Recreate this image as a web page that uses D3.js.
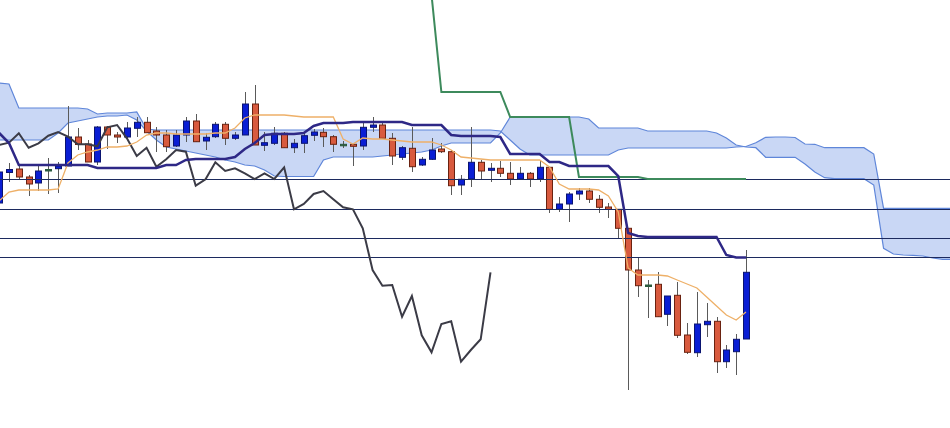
<!DOCTYPE html>
<html><head><meta charset="utf-8">
<script src="https://cdn.jsdelivr.net/npm/d3@7"></script>
<style>html,body{margin:0;padding:0;background:#fff;overflow:hidden}</style>
</head><body>
<svg id="c" width="950" height="428"></svg>
<script>
// ---- data (index -1 .. 75 for candles) ----
const firstIndex = -1;
const open = [297, 327.5, 331, 323, 317, 330.5, 331.3, 334, 363, 356,
 338, 373, 365, 363, 371.7, 377.7, 369, 365, 354, 365,
 379, 359, 363.3, 375.7, 361.7, 365, 396, 354.7, 356.7, 366.7,
 352.3, 356.7, 364.7, 367.7, 363.3, 355.7, 355.7, 354, 372.7, 375,
 361.7, 342.7, 351.7, 335, 340.7, 351, 348.3, 315, 321, 337.7,
 329.7, 331.7, 326.7, 321, 326.7, 321, 332.7, 290.7, 296, 306,
 309, 300.7, 293, 290.7, 271.7, 230, 215, 215.7, 185.7, 204.7,
 165, 147.3, 175.3, 178.7, 138.3, 148.3, 161];
const high = [330, 337, 334, 325, 335, 342, 338, 394, 372, 360,
 374, 374, 368, 378, 383, 383, 373, 370, 370, 383,
 386, 367, 378, 378, 368, 408, 415, 368, 373, 368,
 361, 367, 371, 372, 365, 359, 357, 378, 383, 377,
 367, 354, 373, 343, 362, 357, 350, 325, 373, 340,
 337, 339, 338, 333, 328, 340, 333, 303, 308, 312,
 312, 305, 297, 291, 272, 243, 220, 228, 204, 218,
 177, 208, 197, 183, 155, 166, 250];
const low = [295, 318, 321, 304, 309, 306, 307, 334, 350, 338,
 335, 351, 357, 362, 363, 367, 348, 348, 353, 358,
 358, 350, 362, 355, 360, 365, 355, 349, 355, 352,
 347, 347, 359, 353, 348, 352, 334, 350, 368, 361,
 335, 340, 328, 334, 340, 347, 305, 305, 313, 321,
 318, 323, 315, 320, 313, 318, 287, 288, 278, 300,
 297, 287, 282, 262, 110, 203, 182, 183, 174, 162,
 146, 143, 163, 127, 132, 125, 161];
const close = [328, 330.5, 323, 316, 329, 330.5, 334, 363, 355.5, 338,
 373, 365, 363, 372, 377.7, 367.3, 365, 353.3, 365, 379,
 358.3, 362.7, 375.7, 361.7, 365, 396, 355, 357.3, 366.7, 352.3,
 356.7, 364.3, 368, 363.3, 355.7, 355.7, 353.7, 372.7, 375, 361.7,
 344, 352.3, 333.3, 340.7, 350, 348.3, 314.3, 320.7, 337.7, 329,
 331.7, 326.7, 321, 326.7, 321, 332.7, 290.7, 296, 306, 309,
 300.7, 292.7, 290.7, 271.7, 230, 214.3, 215, 183.3, 204, 164.7,
 147.7, 176, 178.7, 138.3, 150, 160.7, 227.7];
// conversion line (tenkan) and base line (kijun)
const tenkan = [299, 308, 310, 310, 310, 310, 311, 337, 345, 348,
 350, 353, 353, 354, 358, 365, 367, 367, 366, 366,
 366, 366, 367, 367, 372, 382, 385, 385, 385, 385,
 384, 383, 383, 383, 383, 361, 356, 362, 361, 361,
 360, 359, 358, 358, 358, 355, 350, 343, 342, 341,
 340, 340, 340, 340, 340, 340, 333, 316, 311, 311,
 311, 310, 304, 288, 232, 225, 225, 225, 224, 220,
 216, 212, 203, 194, 185, 180, 188];
const kijun = [367, 357, 335, 335, 335, 335, 335, 335, 335, 335,
 332, 332, 332, 332, 332, 332, 332, 335, 335, 340,
 341, 341, 341, 341, 343, 351, 357, 365, 366, 366,
 366, 367, 374, 377, 377, 377, 378, 378, 378, 378,
 378, 378, 375, 375, 375, 375, 365, 364, 364, 364,
 364, 363, 346, 346, 346, 346, 338, 338, 334, 334,
 334, 334, 334, 324, 267, 264, 263, 263, 263, 263,
 263, 263, 263, 263, 245, 242.5, 242.5];
// leading spans (index -1 .. 101)
const spanA = [417, 416, 392, 392, 392, 392, 392, 392, 392, 391,
 386, 387, 387, 387, 388, 371, 370, 370, 370, 370,
 370, 370, 370, 370, 370, 370, 370, 370, 370, 370,
 370, 370, 370, 370, 370, 370, 370, 370, 370, 370,
 370, 370, 370, 370, 370, 370, 370, 370, 370, 370,
 370, 369, 360, 351, 345, 345, 345, 345, 345, 345,
 345, 345, 345, 350, 352, 352, 352, 352, 352, 352,
 352, 352, 352, 352, 352, 353, 353.5, 357.3, 362.7, 363,
 363, 362.5, 356, 355.7, 352.3, 352.3, 352.3, 352.3, 352.3, 346,
 291.7, 291.7, 291.7, 291.7, 291.7, 291.7, 291.7, 291.7, 291.7, 291.7,
 291.7, 291.7, 291.7];
const spanB = [360, 360, 360, 360, 360, 360, 367, 377, 379, 381,
 383, 384, 384, 385, 380, 369, 360, 353, 351, 349,
 347, 345, 343, 340, 338, 335, 334, 330, 324, 323.5,
 323.5, 323.5, 323.5, 340, 343, 343, 343, 343, 343, 344,
 345, 346, 347, 348, 350, 354, 357, 357, 357, 357,
 357, 367, 383, 383, 383, 383, 383, 383, 383, 383,
 381, 372, 372, 372, 372, 372, 369, 369, 369, 369,
 369, 369, 369, 367, 362, 355, 353, 352.3, 342.7, 342.7,
 342.7, 342.7, 336, 328, 322.3, 321.3, 321.3, 321.3, 321.3, 315,
 251.7, 246, 245, 244.7, 244, 242, 240.7, 240.7, 240.7, 240.7,
 240.7, 240.7, 240.7];
// longer-period base line (index 43 .. 75)
const greenStart = 43;
const greenLine = [505, 408, 408, 408, 408, 408, 408, 408, 383, 383, 383, 383, 383, 383, 383,
 323, 323, 323, 323, 323, 323, 323, 321, 321, 321, 321, 321, 321, 321, 321, 321, 321, 321];
const levels = [320.7, 291, 262, 242.7];
const lag = 26;

// ---- scales ----
const W = 950, H = 428;
const x = d3.scaleLinear().domain([-1, 75]).range([-0.83, 746]);
const y = d3.scaleLinear().domain([500, 72]).range([0, H]);

const svg = d3.select('#c');

const candles = open.map((o, k) => ({i: k + firstIndex, o, h: high[k], l: low[k], c: close[k]}));
const cloud = spanA.map((a, k) => ({i: k + firstIndex, a, b: spanB[k]}));

// cloud
svg.append('path').datum(cloud)
  .attr('fill', '#c9d7f5')
  .attr('d', d3.area().x(d => x(d.i)).y0(d => y(d.a)).y1(d => y(d.b)));
['a', 'b'].forEach(key => {
  svg.append('path').datum(cloud)
    .attr('fill', 'none').attr('stroke', '#5f86d9').attr('stroke-width', 1.2)
    .attr('d', d3.line().x(d => x(d.i)).y(d => y(d[key])));
});

// candles
const g = svg.append('g');
g.selectAll('line.w').data(candles).join('line')
  .attr('x1', d => Math.round(x(d.i)) + 0.5).attr('x2', d => Math.round(x(d.i)) + 0.5)
  .attr('y1', d => y(d.h)).attr('y2', d => y(d.l))
  .attr('stroke', '#5a5a5a').attr('stroke-width', 1);
g.selectAll('rect').data(candles).join('rect')
  .attr('x', d => Math.round(x(d.i)) - 2.5)
  .attr('width', 6)
  .attr('y', d => y(Math.max(d.o, d.c)))
  .attr('height', d => Math.max(1.5, Math.abs(y(d.o) - y(d.c))))
  .attr('fill', d => d.c > d.o ? '#0a1ed4' : (d.c < d.o ? '#d85a3e' : '#2a5a3e'))
  .attr('stroke', d => d.c > d.o ? '#0a1470' : (d.c < d.o ? '#6a2210' : '#2a5a3e'))
  .attr('stroke-width', 1);

// horizontal levels
svg.selectAll('line.lv').data(levels).join('line')
  .attr('x1', 0).attr('x2', W)
  .attr('y1', d => Math.round(y(d)) + 0.5).attr('y2', d => Math.round(y(d)) + 0.5)
  .attr('stroke', '#1c2a5e').attr('stroke-width', 1.2);

// lagging span from closes
const chikou = candles.filter(d => d.i - lag >= -1).map(d => ({i: d.i - lag, v: d.c}));
svg.append('path').datum(chikou)
  .attr('fill', 'none').attr('stroke', '#3b3b46').attr('stroke-width', 2)
  .attr('d', d3.line().x(d => x(d.i)).y(d => y(d.v)));

// green line
svg.append('path').datum(greenLine.map((v, k) => ({i: k + greenStart, v})))
  .attr('fill', 'none').attr('stroke', '#3d8a5c').attr('stroke-width', 2)
  .attr('d', d3.line().x(d => x(d.i)).y(d => y(d.v)));

// tenkan
svg.append('path').datum(tenkan.map((v, k) => ({i: k + firstIndex, v})))
  .attr('fill', 'none').attr('stroke', '#eeb068').attr('stroke-width', 1.3)
  .attr('d', d3.line().x(d => x(d.i)).y(d => y(d.v)));

// kijun
svg.append('path').datum(kijun.map((v, k) => ({i: k + firstIndex, v})))
  .attr('fill', 'none').attr('stroke', '#2e2886').attr('stroke-width', 2.5)
  .attr('d', d3.line().x(d => x(d.i)).y(d => y(d.v)));
</script>
</body></html>
